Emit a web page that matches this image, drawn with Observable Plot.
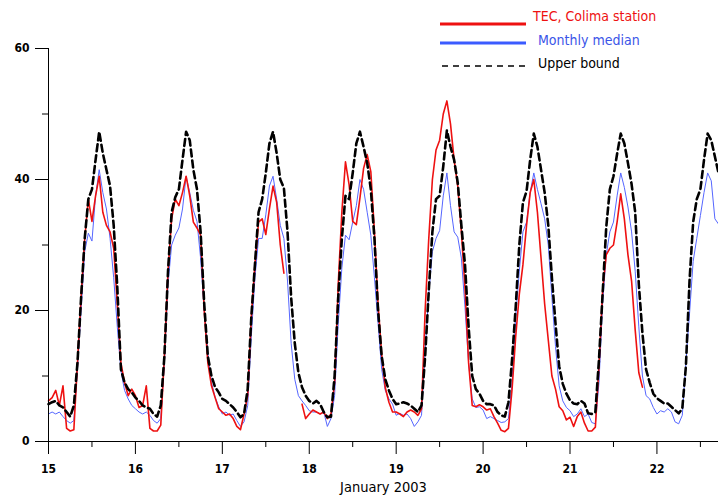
<!DOCTYPE html>
<html><head><meta charset="utf-8">
<script src="https://cdn.jsdelivr.net/npm/d3@7"></script>
<script src="https://cdn.jsdelivr.net/npm/@observablehq/plot@0.6"></script>
<style>
body{margin:0;background:#fff;}
#wrap{position:relative;width:718px;height:497px;overflow:hidden;}
.lg{position:absolute;font-family:"DejaVu Sans Condensed","DejaVu Sans",sans-serif;font-size:14px;white-space:nowrap;line-height:1;}
.sw{position:absolute;}
</style></head><body>
<div id="wrap">
<div id="chart"></div>
<svg class="sw" style="left:440px;top:18px" width="88" height="12"><line x1="0" x2="86" y1="6" y2="6" stroke="#ee1111" stroke-width="3"/></svg>
<div class="lg" style="left:533px;top:9px;color:#ee1111">TEC, Colima station</div>
<svg class="sw" style="left:440px;top:37px" width="88" height="12"><line x1="0" x2="86" y1="6" y2="6" stroke="#3b5bff" stroke-width="3"/></svg>
<div class="lg" style="left:538px;top:33px;color:#3a55e8">Monthly median</div>
<svg class="sw" style="left:440px;top:60px" width="88" height="12"><line x1="2" x2="88" y1="6" y2="6" stroke="#000" stroke-width="1.6" stroke-dasharray="6,5"/></svg>
<div class="lg" style="left:538px;top:56px;color:#000">Upper bound</div>
</div>
<script>
// hourly values starting 15 Jan 2003 00:00
const upperBound = [
  5.7, 6.0, 6.2, 5.5, 5.2, 4.5, 3.8, 5.5, 12, 22, 31, 37, 38.5, 43, 47.3, 44, 41.5, 39, 33, 23.5, 11, 9, 8, 7.5,
  6.7, 6.2, 5.5, 5.2, 5.0, 4.2, 3.8, 5.5, 13, 26, 35, 37.3, 38.5, 43, 47.3, 46, 41.5, 38.5, 32, 21, 13, 10, 8.3, 7.5,
  6.5, 6.2, 5.7, 5.2, 4.5, 3.7, 4.2, 8, 19, 27, 35, 37, 41, 45.5, 47.3, 44, 40, 38.7, 32, 22, 15, 10.5, 8.3, 7,
  6.2, 5.8, 6.2, 5.7, 4.5, 3.7, 3.8, 10, 22, 31, 37.5, 37, 41, 45.5, 47.3, 45, 42.5, 38.5, 31, 20, 13, 9.5, 7.8, 6.5,
  5.7, 5.8, 6, 5.8, 5.5, 5, 4.5, 5.5, 13, 23, 32, 37, 37.5, 42, 47.5, 45, 43, 39.5, 33, 27, 17.5, 10, 8, 7.3,
  6.2, 5.7, 5.7, 5.5, 4.5, 4, 3.8, 6, 12.5, 20.5, 30, 36.5, 38.2, 43, 47, 45, 41.5, 38, 33, 25, 18, 11.5, 8.8, 7.3,
  6.3, 5.8, 5.7, 6.2, 5.8, 4.3, 4.2, 4.5, 12.5, 22.5, 32.7, 38.5, 40.5, 43.9, 47, 45.5, 42.5, 39.3, 35, 24, 16.5, 11, 9, 7.3,
  6.6, 6.2, 5.8, 5.8, 5.3, 4.8, 4.3, 5, 11.5, 24.5, 33.5, 37, 38.5, 43, 47, 46, 43.5, 41
];
const monthlyMedian = [
  4.2, 4.5, 4.2, 4.5, 3.8, 3.2, 2.8, 3.2, 11, 20, 29, 31.8, 30.6, 37.5, 41.5, 38, 35.5, 31, 25, 17.5, 10.8, 7.8, 6.5, 5.5,
  5, 4.5, 4.2, 4.5, 4, 3.2, 2.8, 3.5, 12, 24, 30, 31.5, 32.6, 35.5, 40.5, 38, 35.3, 33.6, 28, 20, 13.5, 9, 6.8, 5.3,
  4.2, 4.5, 4, 4.2, 3.2, 2.3, 3, 5.5, 16, 25, 31, 31, 34.6, 39, 40.5, 37, 33, 31, 24.5, 15, 9.5, 7, 6.2, 5.5,
  4.7, 4.5, 4.5, 4.2, 4.5, 2.3, 3.5, 7, 18, 26.5, 31.5, 30.8, 33.5, 36, 40, 38.5, 35, 31.5, 25, 18, 11, 7.8, 6.5, 5.7,
  4, 4.3, 4, 4.2, 3.5, 2.3, 3, 4, 14, 22.5, 29, 31, 32.2, 37.5, 41, 36, 32, 31.2, 28, 20.5, 12, 6.5, 5.2, 5.3,
  4.8, 3.5, 3.8, 3.5, 3.2, 2.9, 3, 3.5, 9, 19, 26, 32, 33.5, 38, 41, 38.5, 36.3, 34, 30, 22, 14.5, 8.5, 6.2, 5.2,
  4.7, 3.8, 4.2, 5, 3.8, 4.2, 2.9, 2.7, 9, 21, 28.5, 32, 33.5, 37.5, 41, 38.8, 35.8, 32, 26, 17.5, 10, 7, 6.5, 5.2,
  4.2, 4.7, 4.5, 5, 4.5, 3, 2.7, 4, 12, 19.5, 27.5, 31, 34.5, 38, 41, 39.8, 34, 33.2
];
const tecColima = [
  6.2, 6.7, 7.8, 5.5, 8.5, 2, 1.6, 1.8, 12, 22, 31, 37, 33.6, 37.5, 40.5, 35, 33, 32, 29.5, 21, 12, 9, 7, 8,
  7, 5.2, 5.5, 8.5, 2, 1.6, 1.6, 2.5, 13, 26, 34, 37, 36, 38, 40.5, 37.5, 33.5, 32.6, 31.5, 20, 12, 8.5, 6.7, 5,
  4.5, 4, 4.2, 3.5, 2.3, 1.8, 4.2, 7, 19, 27, 33.5, 34, 31.6, 35.5, 39, 36.5, 30, 25.7, null, null, null, null, 5.7, 3.5,
  4.2, 4.8, 4.5, 4.2, 4.5, 3.5, 4.2, 9, 24, 35, 42.7, 39.2, 33.6, 33.1, 37.2, 41.7, 43.8, 41.2, 32, 21, 13.3, 8.2, 6, 4.5,
  4.5, 4.2, 3.8, 4.5, 4.8, 4.5, 4, 5, 20, 31, 40, 44.5, 46, 50, 52, 48.5, 43, 39, 32, 23.5, 12, 5.5, 5.3, 5.6,
  5.3, 4.8, 5, 3.8, 2.8, 1.7, 1.5, 2, 8, 16, 22.5, 27, 33, 38, 40, 35, 28, 21, 15.5, 10, 8, 5.3, 4.7, 3.3,
  3.7, 2.3, 3.8, 4.5, 2.8, 1.6, 1.6, 2.2, 11.5, 23, 28.5, 29.5, 30, 33.5, 37.8, 34, 28.5, 24.5, 17, 10.5, 8.3
];
const dayTicks = [15, 16, 17, 18, 19, 20, 21, 22];
const halfDayTicks = [15.5, 16.5, 17.5, 18.5, 19.5, 20.5, 21.5, 22.5];
const yMajorTicks = [0, 20, 40, 60];
const yMinorTicks = [10, 30, 50];
const startDay = 15;
const endDay = 15 + (upperBound.length - 1) / 24;
const axisFoot = -1.4;

const toRows = vals => vals.map((v, i) => ({t: startDay + i / 24, v}));

const chart = Plot.plot({
  width: 718, height: 497,
  marginLeft: 48, marginRight: 0, marginTop: 48, marginBottom: 56,
  x: {domain: [startDay, endDay]},
  y: {domain: [0, 60]},
  style: {fontFamily: "'DejaVu Sans Condensed', 'DejaVu Sans', sans-serif", fontSize: "12px", background: "white", color: "black", overflow: "visible"},
  marks: [
    Plot.lineY(toRows(monthlyMedian), {x: "t", y: "v", stroke: "#5566ff", strokeWidth: 1}),
    Plot.lineY(toRows(tecColima), {x: "t", y: "v", stroke: "#ee1111", strokeWidth: 1.6}),
    Plot.lineY(toRows(upperBound), {x: "t", y: "v", stroke: "black", strokeWidth: 2.6, strokeDasharray: "7,4"}),
    Plot.ruleY([0], {x1: startDay, x2: endDay, stroke: "black"}),
    Plot.ruleX([startDay], {y1: axisFoot, y2: 60, stroke: "black"}),
    Plot.axisY({ticks: yMajorTicks, tickSize: 13, tickPadding: 6, fontWeight: "bold", label: null, tickFormat: d => d}),
    Plot.axisY({ticks: yMinorTicks, tickSize: 6, label: null, tickFormat: () => ""}),
    Plot.axisX({ticks: dayTicks, tickSize: 13, tickPadding: 10, fontWeight: "bold", label: null, tickFormat: d => d}),
    Plot.axisX({ticks: halfDayTicks, tickSize: 6, label: null, tickFormat: () => ""}),
    Plot.text(["January 2003"], {frameAnchor: "bottom", lineAnchor: "middle", dy: 46, fontSize: 14.5})
  ]
});
document.getElementById("chart").appendChild(chart);
</script>
</body></html>
